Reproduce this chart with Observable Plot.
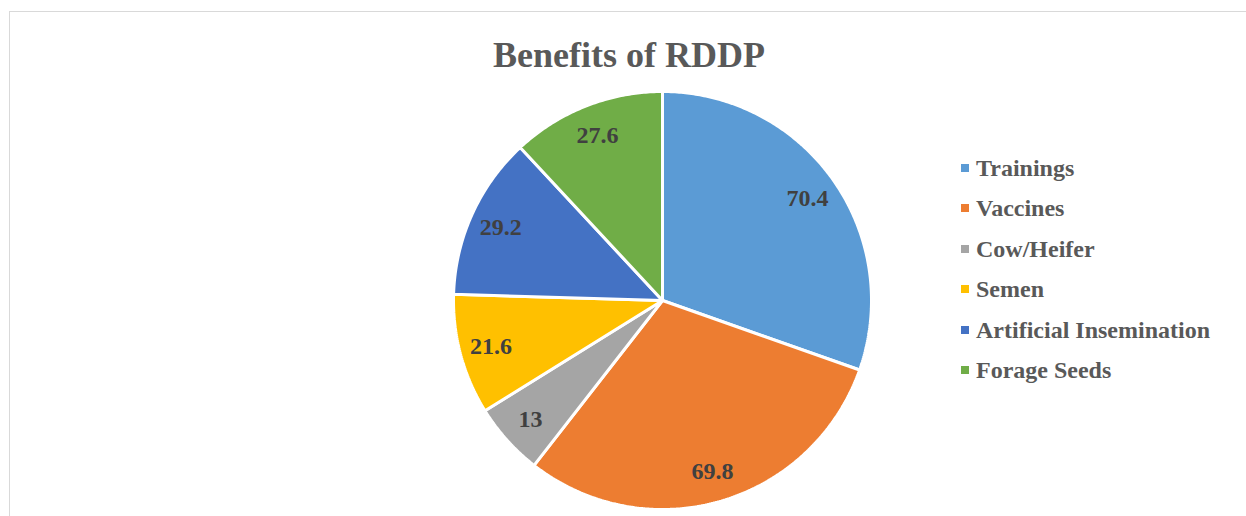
<!DOCTYPE html>
<html>
<head>
<meta charset="utf-8">
<script src="https://cdn.jsdelivr.net/npm/d3@7"></script>
<script src="https://cdn.jsdelivr.net/npm/@observablehq/plot@0.6"></script>
<style>
  html, body { margin: 0; padding: 0; background: #fff; }
  #wrap { position: relative; width: 1246px; height: 516px; overflow: hidden; font-family: "Liberation Serif", "Times New Roman", serif; }
  #frame { position: absolute; left: 9px; top: 11px; width: 1300px; height: 600px; border: 1.5px solid #d9d9d9; box-sizing: border-box; }
  #chart { position: absolute; left: 0; top: 0; }
  #title { position: absolute; left: 0; width: 1258px; top: 37px; text-align: center; font-size: 36px; line-height: 36px; font-weight: bold; color: #595959; }
  #legend { position: absolute; left: 961px; top: 156px; }
  .row { display: flex; align-items: center; height: 24px; margin-bottom: 16.4px; font-size: 24px; line-height: 24px; font-weight: bold; color: #595959; white-space: nowrap; }
  .sw { width: 8px; height: 8px; margin-right: 7px; flex: none; }
</style>
</head>
<body>
<div id="wrap">
  <div id="frame"></div>
  <div id="chart"></div>
  <div id="title">Benefits of RDDP</div>
  <div id="legend"></div>
</div>
<script>
const categories = ["Trainings", "Vaccines", "Cow/Heifer", "Semen", "Artificial Insemination", "Forage Seeds"];
const values = [70.4, 69.8, 13, 21.6, 29.2, 27.6];
const labels = ["70.4", "69.8", "13", "21.6", "29.2", "27.6"];
const colors = ["#5B9BD5", "#ED7D31", "#A5A5A5", "#FFC000", "#4472C4", "#70AD47"];

const data = categories.map((c, i) => ({category: c, value: values[i], label: labels[i]}));
const arcs = d3.pie().value(d => d.value).sort(null)(data);

// polygon outline of each slice (angles clockwise from 12 o'clock)
const outline = [];
arcs.forEach(a => {
  const c = a.data.category;
  outline.push({category: c, x: 0, y: 0});
  const n = Math.max(2, Math.ceil((a.endAngle - a.startAngle) / 0.01));
  for (let k = 0; k <= n; k++) {
    const t = a.startAngle + (a.endAngle - a.startAngle) * k / n;
    outline.push({category: c, x: Math.sin(t), y: Math.cos(t)});
  }
  outline.push({category: c, x: 0, y: 0});
});
const labelPts = arcs.map(a => {
  const m = (a.startAngle + a.endAngle) / 2;
  return {label: a.data.label, x: 0.85 * Math.sin(m), y: 0.85 * Math.cos(m)};
});

const cx = 662, cy = 300, r = 209;
const plot = Plot.plot({
  width: 1246,
  height: 516,
  axis: null,
  x: {domain: [-1, 1], range: [cx - r, cx + r]},
  y: {domain: [-1, 1], range: [cy + r, cy - r]},
  color: {domain: categories, range: colors},
  style: {background: "transparent", overflow: "visible"},
  marks: [
    Plot.line(outline, {x: "x", y: "y", z: "category", fill: "category", stroke: "white", strokeWidth: 3, strokeLinejoin: "miter"}),
    Plot.text(labelPts, {x: "x", y: "y", text: "label", fontSize: 24, fontWeight: "bold", fontFamily: "Liberation Serif", fill: "#404040"})
  ]
});
document.getElementById("chart").appendChild(plot);

const legend = document.getElementById("legend");
categories.forEach((c, i) => {
  const row = document.createElement("div");
  row.className = "row";
  const sw = document.createElement("span");
  sw.className = "sw";
  sw.style.background = colors[i];
  row.appendChild(sw);
  row.appendChild(document.createTextNode(c));
  legend.appendChild(row);
});
</script>
</body>
</html>
